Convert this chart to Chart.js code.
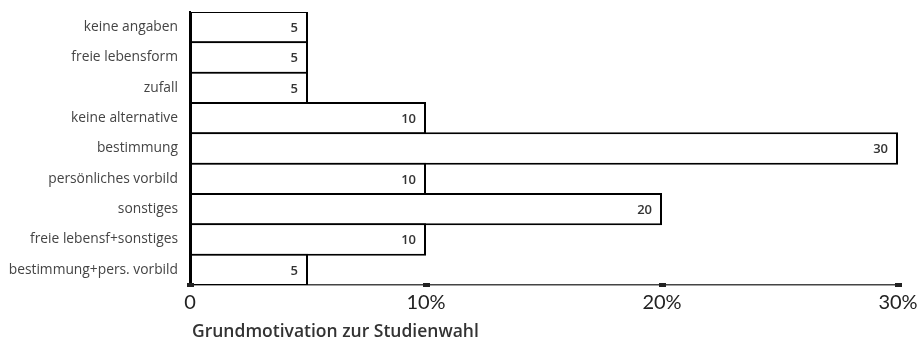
<!DOCTYPE html>
<html>
<head>
<meta charset="utf-8">
<script src="https://cdn.jsdelivr.net/npm/chart.js@4"></script>
<style>
  html, body { margin: 0; padding: 0; background: #fff; }
</style>
</head>
<body>
<canvas id="chart" width="922" height="343"></canvas>
<script>
"use strict";

// Kategorien (von oben nach unten)
const categories = [
    "keine angaben",
    "freie lebensform",
    "zufall",
    "keine alternative",
    "bestimmung",
    "persönliches vorbild",
    "sonstiges",
    "freie lebensf+sonstiges",
    "bestimmung+pers. vorbild"
];
// Anteile in %
const shares = [5, 5, 5, 10, 30, 10, 20, 10, 5];
// x-Achse
const axisMax = 30;
const axisStep = 10;
const chartTitle = "Grundmotivation zur Studienwahl";

// Werte in die Balken schreiben
const valueLabels = {
    id: "valueLabels",
    afterDatasetsDraw(chart) {
        const ctx = chart.ctx;
        const meta = chart.getDatasetMeta(0);
        ctx.save();
        ctx.font = "600 13px 'Open Sans'";
        ctx.fillStyle = "#333";
        ctx.textAlign = "right";
        ctx.textBaseline = "middle";
        meta.data.forEach((bar, i) => {
            ctx.fillText(String(shares[i]), bar.x - 10, bar.y + 1);
        });
        ctx.restore();
    }
};

// kleine Markierungen auf der x-Achse + Titel
const axisMarks = {
    id: "axisMarks",
    afterDraw(chart) {
        const ctx = chart.ctx;
        const xs = chart.scales.x;
        const y = chart.chartArea.bottom;
        ctx.save();
        ctx.fillStyle = "#222";
        xs.ticks.forEach(t => {
            const px = Math.round(xs.getPixelForValue(t.value));
            ctx.fillRect(px - 3, y - 2, 7, 4);
        });
        ctx.font = "600 17.5px 'Open Sans'";
        ctx.fillStyle = "#333";
        ctx.textAlign = "left";
        ctx.textBaseline = "middle";
        ctx.fillText(chartTitle, chart.chartArea.left + 2, 332);
        ctx.restore();
    }
};

new Chart(document.getElementById("chart"), {
    type: "bar",
    data: {
        labels: categories,
        datasets: [{
            data: shares,
            backgroundColor: "#fff",
            borderColor: "#000",
            borderWidth: 2,
            borderSkipped: false,
            categoryPercentage: 1,
            // Balken überlappen um die Randbreite -> gemeinsame Linie
            barPercentage: 1.066
        }]
    },
    options: {
        indexAxis: "y",
        responsive: false,
        animation: false,
        layout: { padding: { top: 12, right: 24, left: 0, bottom: 0 } },
        plugins: {
            legend: { display: false },
            tooltip: { enabled: false }
        },
        scales: {
            x: {
                min: 0,
                max: axisMax,
                ticks: {
                    stepSize: axisStep,
                    color: "#222",
                    font: { family: "Lato", size: 20 },
                    padding: 6,
                    callback: v => v === 0 ? "0" : v + "%"
                },
                grid: { display: false, drawTicks: false },
                border: { color: "#444", width: 1.5 },
                afterFit: s => {
                    s.height = 58;
                    s.paddingRight = 0;
                }
            },
            y: {
                ticks: {
                    color: "#444",
                    font: { family: "Open Sans", size: 13.8 },
                    padding: 12
                },
                grid: { display: false, drawTicks: false },
                border: { color: "#000", width: 2 },
                afterFit: s => {
                    s.width = 190;
                    s.paddingTop = 0;
                    s.paddingBottom = 0;
                }
            }
        }
    },
    plugins: [valueLabels, axisMarks]
});
</script>
</body>
</html>
